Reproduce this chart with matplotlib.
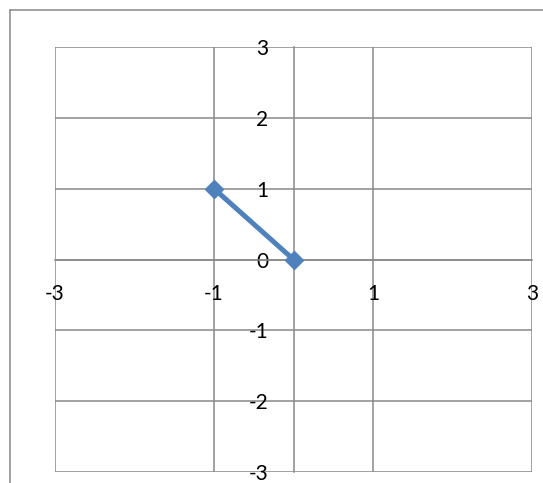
import matplotlib
matplotlib.use("Agg")
import matplotlib.pyplot as plt
from matplotlib.lines import Line2D

# datos de la serie
x_vals = [-1, 0]
y_vals = [1, 0]

x_ticks = [-3, -1, 1, 3]
y_ticks = [-3, -2, -1, 0, 1, 2, 3]

plt.rcParams["font.family"] = ["Lato", "DejaVu Sans"]
plt.rcParams["axes.unicode_minus"] = False

W, H = 543, 483
fig = plt.figure(figsize=(W / 100, H / 100), dpi=100)
ax = fig.add_axes([55 / W, 1 - 472 / H, (532 - 55) / W, (472 - 47) / H])

gris = "#898989"
ax.set_xlim(-3, 3)
ax.set_ylim(-3, 3)
ax.set_xticks(x_ticks)
ax.set_yticks(y_ticks)
ax.grid(True, color=gris, linewidth=1.1)
for linea in ax.get_xgridlines() + ax.get_ygridlines():
    linea.set_clip_on(False)

# ejes cruzando en el origen
ax.spines["left"].set_position(("data", 0))
ax.spines["bottom"].set_position(("data", 0))
ax.spines["top"].set_visible(False)
ax.spines["right"].set_visible(False)
for lado in ("left", "bottom"):
    ax.spines[lado].set_color(gris)
    ax.spines[lado].set_linewidth(1.1)

ax.tick_params(axis="both", length=0, labelsize=15, colors="black")
ax.tick_params(axis="x", pad=18)
ax.tick_params(axis="y", pad=18)

ax.plot(x_vals, y_vals, color="#4F81BD", linewidth=3.6, marker="D",
        markersize=9, zorder=5, clip_on=False)

# borde exterior del gráfico
x0, y0 = 10 / W, 1 - 10 / H
fig.add_artist(Line2D([x0, x0], [0, y0], color=gris, linewidth=1.1))
fig.add_artist(Line2D([x0, 1], [y0, y0], color=gris, linewidth=1.1))

fig.savefig("out.png", dpi=100)
